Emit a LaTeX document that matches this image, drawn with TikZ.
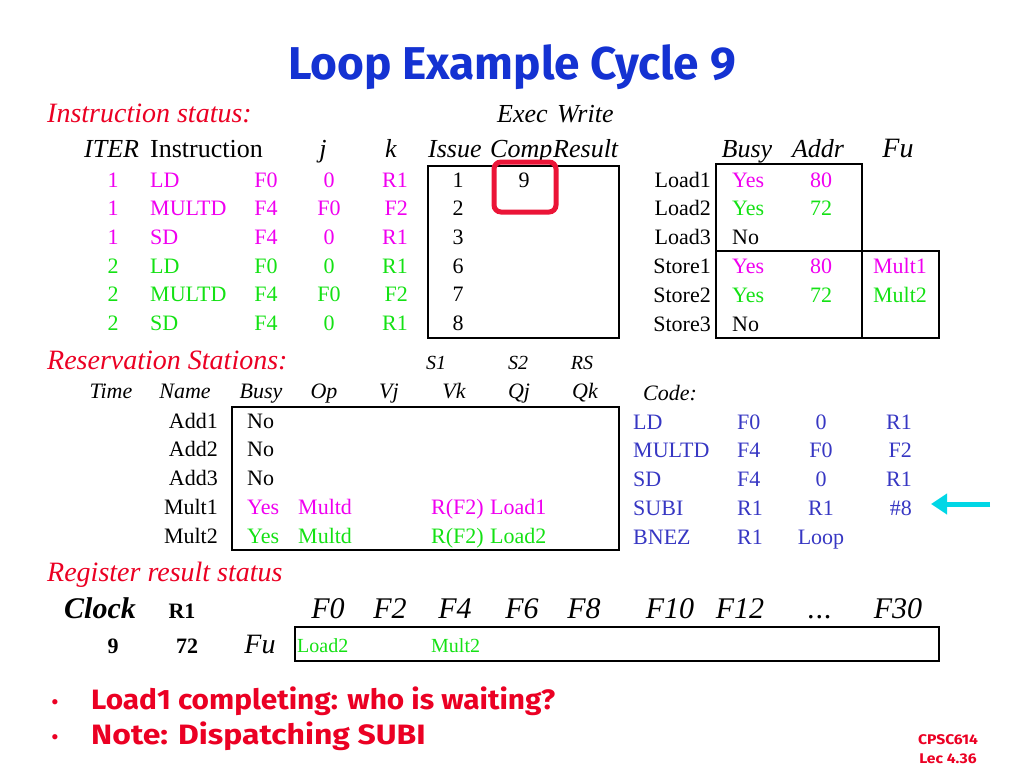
\documentclass[tikz,border=0pt]{standalone}
\usepackage{fontspec}
\usetikzlibrary{arrows.meta}
\setmainfont{Liberation Serif}
\newfontfamily\slidefont{Fira Sans}
\definecolor{titleblue}{RGB}{20,50,210}
\definecolor{slidered}{RGB}{235,0,35}
\definecolor{mag}{RGB}{240,0,240}
\definecolor{grn}{RGB}{20,225,20}
\definecolor{codeblue}{RGB}{55,55,195}
\definecolor{arrowcyan}{RGB}{0,215,230}
\definecolor{hilite}{RGB}{235,20,55}
\newcommand{\squeeze}[2]{\scalebox{#1}[1]{#2}}
\tikzset{
  txt/.style={inner sep=0pt,anchor=base,font=\fontsize{22}{24}\selectfont},
  hdr/.style={inner sep=0pt,anchor=base,font=\fontsize{26}{28}\selectfont\itshape},
  sect/.style={inner sep=0pt,anchor=base west,text=slidered,font=\fontsize{28}{30}\selectfont\itshape},
  regf/.style={inner sep=0pt,anchor=base,font=\fontsize{30}{32}\selectfont\itshape},
  tbl/.style={line width=1.5pt},
  bullet/.style={inner sep=0pt,anchor=base west,text=slidered,font=\fontsize{28}{30}\slidefont\bfseries},
  foot/.style={inner sep=0pt,anchor=base,text=slidered,font=\fontsize{14}{16}\slidefont\bfseries},
}
\begin{document}
\begin{tikzpicture}[x=1pt,y=-1pt]
\useasboundingbox (0,0) rectangle (1024,768);
% title
\node[inner sep=0pt,anchor=base,text=titleblue,font=\fontsize{46}{48}\slidefont\bfseries] (title) at (512,79) {\squeeze{1.0}{Loop Example Cycle 9}};

% instruction status
\node[sect] (insstat) at (47,122) {Instruction status:};
\node[hdr,anchor=base west] (exec) at (497,122) {Exec};
\node[hdr,anchor=base west] (write) at (557,122) {Write};
\node[hdr,anchor=base west] (hiter) at (84,157) {ITER};
\node[hdr,anchor=base west,font=\fontsize{26}{28}\selectfont] (hinstr) at (150,157) {Instruction};
\node[hdr] (hj) at (323,157) {j};
\node[hdr] (hk) at (391,157) {k};
\node[hdr,anchor=base west] (hissue) at (428,157) {Issue};
\node[hdr,anchor=base west] (hcomp) at (490,157) {Comp};
\node[hdr,anchor=base west] (hresult) at (553,157) {Result};
\foreach \itr/\op/\dst/\srcj/\srck/\iss/\col [count=\r from 0] in {1/LD/F0/0/R1/1/mag,1/MULTD/F4/F0/F2/2/mag,1/SD/F4/0/R1/3/mag,2/LD/F0/0/R1/6/grn,2/MULTD/F4/F0/F2/7/grn,2/SD/F4/0/R1/8/grn}{
  \pgfmathsetmacro\yb{187+28.7*\r}
  \node[txt,text=\col] (iter\r) at (113,\yb) {\itr};
  \node[txt,text=\col,anchor=base west] (op\r) at (150,\yb) {\op};
  \node[txt,text=\col] (dst\r) at (266,\yb) {\dst};
  \node[txt,text=\col] (srcj\r) at (329,\yb) {\srcj};
  \node[txt,text=\col,anchor=base east] (srck\r) at (408,\yb) {\srck};
  \node[txt] (iss\r) at (458,\yb) {\iss};
}
\node[txt] (comp0) at (524,187) {9};
\draw[tbl] (428,166) rectangle (619,338);
\draw[hilite,line width=5pt,rounded corners=7pt] (494,162) rectangle (556,212);

% load / store buffers
\node[hdr] (hbusy) at (747,157) {Busy};
\node[hdr] (haddr) at (818,157) {Addr};
\node[hdr,font=\fontsize{28}{30}\selectfont\itshape] (hfu) at (898,157) {Fu};
\foreach \buf/\busy/\addr/\fu/\col [count=\r from 0] in {Load1/Yes/80//mag,Load2/Yes/72//grn,Load3/No///black,Store1/Yes/80/Mult1/mag,Store2/Yes/72/Mult2/grn,Store3/No///black}{
  \pgfmathsetmacro\yb{187+28.8*\r}
  \node[txt,anchor=base east] (buf\r) at (711,\yb) {\buf};
  \node[txt,text=\col,anchor=base west] (bbusy\r) at (732,\yb) {\busy};
  \node[txt,text=\col] (baddr\r) at (821,\yb) {\addr};
  \node[txt,text=\col] (bfu\r) at (900,\yb) {\fu};
}
\draw[tbl] (716,164) rectangle (862,338);
\draw[tbl] (716,251) -- (939,251) -- (939,338) -- (862,338);

% reservation stations
\node[sect] (resstat) at (47,369) {Reservation Stations:};
\foreach \h/\x in {S1/436,S2/518,RS/582}
  \node[txt,font=\fontsize{20}{22}\selectfont\itshape] (h\h) at (\x,369) {\h};
\foreach \h/\x in {Time/111,Name/185,Busy/261,Op/324,Vj/389,Vk/454,Qj/519,Qk/585}
  \node[txt,font=\fontsize{22}{24}\selectfont\itshape] (rs\h) at (\x,398) {\h};
\foreach \st/\busy/\op/\vk/\qj/\col [count=\r from 0] in {Add1/No////black,Add2/No////black,Add3/No////black,Mult1/Yes/Multd/R(F2)/Load1/mag,Mult2/Yes/Multd/R(F2)/Load2/grn}{
  \pgfmathsetmacro\yb{428+28.8*\r}
  \node[txt,anchor=base east] (st\r) at (218,\yb) {\st};
  \node[txt,text=\col,anchor=base west] (sbusy\r) at (247,\yb) {\busy};
  \node[txt,text=\col,anchor=base west] (sop\r) at (298,\yb) {\op};
  \node[txt,text=\col,anchor=base west] (svk\r) at (431,\yb) {\vk};
  \node[txt,text=\col,anchor=base west] (sqj\r) at (490,\yb) {\qj};
}
\draw[tbl] (232,407) rectangle (619,550);

% code
\node[txt,anchor=base west,font=\fontsize{22}{24}\selectfont\itshape] (code) at (643,400) {Code:};
\foreach \op/\ra/\rb/\rc [count=\r from 0] in {LD/F0/0/R1,MULTD/F4/F0/F2,SD/F4/0/R1,SUBI/R1/R1/\#8,BNEZ/R1/Loop/}{
  \pgfmathsetmacro\yb{429+28.8*\r}
  \node[txt,text=codeblue,anchor=base west] (cop\r) at (633,\yb) {\op};
  \node[txt,text=codeblue,anchor=base west] (cra\r) at (737,\yb) {\ra};
  \node[txt,text=codeblue] (crb\r) at (821,\yb) {\rb};
  \node[txt,text=codeblue,anchor=base east] (crc\r) at (912,\yb) {\rc};
}
\coordinate (arrtail) at (990,504);
\coordinate (arrhead) at (931,504);
\draw[arrowcyan,line width=5pt,-{Triangle[length=16pt,width=20pt]}] (arrtail) -- (arrhead);

% register result status
\node[sect] (regstat) at (47,581) {Register result status};
\node[regf,font=\fontsize{30}{32}\selectfont\bfseries\itshape] (clock) at (100,618) {Clock};
\node[txt,font=\fontsize{22}{24}\selectfont\bfseries] (rone) at (182,618) {R1};
\foreach \f/\x in {F0/328,F2/390,F4/455,F6/522,F8/584,F10/670,F12/740,F30/898}
  \node[regf] (reg\x) at (\x,618) {\f};
\node[regf] (regdots) at (820,618) {.\kern1pt.\kern1pt.};
\node[txt,font=\fontsize{22}{24}\selectfont\bfseries] (clkval) at (113,653) {9};
\node[txt,font=\fontsize{22}{24}\selectfont\bfseries] (roneval) at (187,653) {72};
\node[txt,font=\fontsize{28}{30}\selectfont\itshape] (fu) at (260,653) {Fu};
\node[txt,text=grn,anchor=base west,font=\fontsize{20}{22}\selectfont] (fzero) at (297,652) {Load2};
\node[txt,text=grn,anchor=base west,font=\fontsize{20}{22}\selectfont] (ffour) at (431,652) {Mult2};
\draw[tbl] (295,627) rectangle (939,661);

% notes
\foreach \note/\yb/\sx [count=\r] in {{Load1 completing: who is waiting?}/709/1.065,{Note: Dispatching SUBI}/744/1.14}{
  \node[bullet,font=\fontsize{22}{24}\selectfont] (dot\r) at (51,\yb) {\textbullet};
  \node[bullet] (note\r) at (91,\yb) {\squeeze{\sx}{\note}};
}
\node[foot] (course) at (948,744) {\squeeze{1.12}{CPSC614}};
\node[foot] (lec) at (948,763) {\squeeze{1.12}{Lec 4.36}};
\end{tikzpicture}
\end{document}
